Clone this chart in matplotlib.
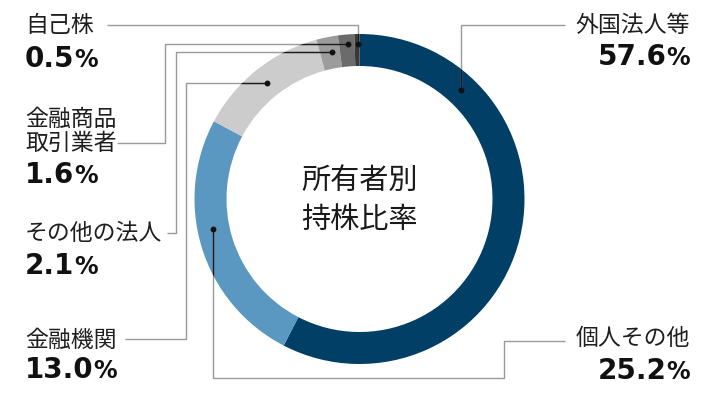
import matplotlib
matplotlib.use("Agg")
from matplotlib import pyplot as plt
from matplotlib.patches import Wedge
import numpy as np

W, H = 720, 400

categories = ["外国法人等", "個人その他", "金融機関", "その他の法人", "金融商品\n取引業者", "自己株"]
shares = [57.6, 25.2, 13.0, 2.1, 1.6, 0.5]
colors = ["#023f66", "#5a97c1", "#cccccc", "#9c9c9c", "#6b6b6b", "#383838"]
center_title = ["所有者別", "持株比率"]

# label layout, pixels from the top-left corner
label_side = ["right", "right", "left", "left", "left", "left"]
label_x = [690, 690, 25, 25, 25, 25]
name_y = [25, 338, 340, 234, 119, 25]
value_y = [55, 369, 368, 264, 173, 57]

# leader lines: anchor on the ring (deg clockwise from top, radius) + elbows
anchor_deg = [42.8, 258.5, 321.4, 349.3, 355.6, 359.3]
anchor_r = [149, 150, 148, 150, 155, 155]
routes = [
    [(None, 25), (565, 25)],
    [(None, 378), (504, 378), (504, 341), (565, 341)],
    [(186, None), (186, 339), (125, 339)],
    [(176, None), (176, 233), (167, 233)],
    [(165, None), (165, 143), (117, 143)],
    [(None, 25), (107, 25)],
]

cx, cy = 359.5, 199
R_OUT, RING_W = 165, 32

plt.rcParams["font.family"] = ["Noto Sans CJK JP", "DejaVu Sans"]

fig = plt.figure(figsize=(7.2, 4.0), dpi=100)
ax = fig.add_axes([0, 0, 1, 1])

ax.pie(shares, colors=colors, radius=R_OUT, center=(cx, H - cy),
       startangle=90, counterclock=False,
       wedgeprops=dict(width=RING_W, linewidth=0))
ax.set_xlim(0, W)
ax.set_ylim(0, H)
ax.set_aspect("auto")
ax.axis("off")

# ring shape used to darken the part of a leader line that sits on the donut
ring = Wedge((cx, H - cy), R_OUT, 0, 360, width=RING_W, transform=ax.transData)

for i in range(len(categories)):
    th = np.radians(anchor_deg[i])
    dx = cx + anchor_r[i] * np.sin(th)
    dy = cy - anchor_r[i] * np.cos(th)
    pts = [(dx, dy)]
    for px, py in routes[i]:
        pts.append((dx if px is None else px, dy if py is None else py))
    xs = [p[0] for p in pts]
    ys = [H - p[1] for p in pts]
    ax.plot(xs, ys, color="#9a9a9a", lw=1.0, solid_capstyle="butt", zorder=3)
    dark, = ax.plot(xs, ys, color="#1a1a1a", lw=1.0, zorder=4)
    dark.set_clip_path(ring)
    ax.plot([dx], [H - dy], "o", color="#111111", ms=3.2, zorder=5)

    # name
    ha = "right" if label_side[i] == "right" else "left"
    for j, line in enumerate(categories[i].split("\n")):
        ax.text(label_x[i], H - (name_y[i] + j * 24), line, ha=ha, va="center",
                fontsize=16.5, color="#1e1e1e")

    # value with smaller percent sign
    base = H - (value_y[i] + 10)
    num_kw = dict(fontfamily="DejaVu Sans", fontweight="bold", color="#111111", va="baseline")
    if label_side[i] == "right":
        pct = ax.text(label_x[i], base, "%", ha="right", fontsize=17, **num_kw)
        ax.annotate(f"{shares[i]:.1f}", xy=(0, base), xycoords=(pct, "data"),
                    ha="right", fontsize=20, **num_kw)
    else:
        num = ax.text(label_x[i], base, f"{shares[i]:.1f}", ha="left", fontsize=20, **num_kw)
        ax.annotate("%", xy=(1, base), xycoords=(num, "data"),
                    ha="left", fontsize=17, **num_kw)

ax.text(cx, H - 181, center_title[0], ha="center", va="center", fontsize=21, color="#1a1a1a")
ax.text(cx, H - 220, center_title[1], ha="center", va="center", fontsize=21, color="#1a1a1a")

fig.savefig("out.png", dpi=100)
